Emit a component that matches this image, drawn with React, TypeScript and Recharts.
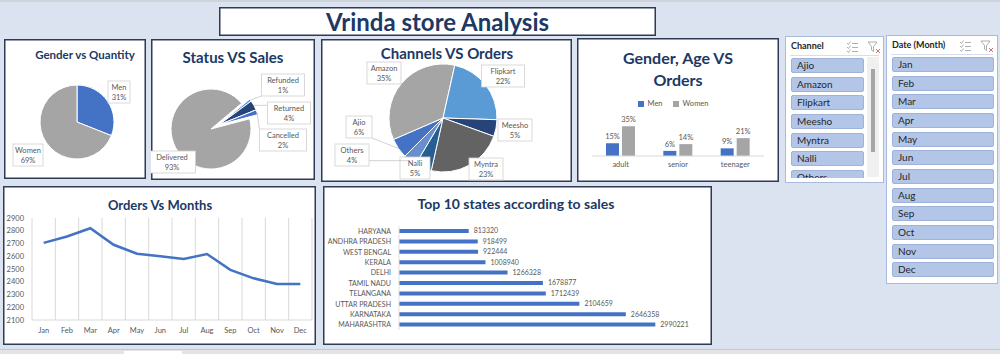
import React from 'react'
import { PieChart, Pie, Cell, BarChart, Bar, XAxis, YAxis, LabelList, LineChart, Line, CartesianGrid, Legend } from 'recharts'

// ---- data ----
const genderNames = ['Men', 'Women']
const genderQty = [31, 69]

// clockwise order from the exploded wedge
const statusNames = ['Refunded', 'Returned', 'Cancelled', 'Delivered']
const statusSales = [1, 4, 2, 93]

const channelNames = ['Ajio', 'Amazon', 'Flipkart', 'Meesho', 'Myntra', 'Nalli', 'Others']
const channelOrders = [6, 35, 22, 5, 23, 5, 4]

const ageGroups = ['adult', 'senior', 'teenager']
const menPct = [15, 6, 9]
const womenPct = [35, 14, 21]

const months = ['Jan', 'Feb', 'Mar', 'Apr', 'May', 'Jun', 'Jul', 'Aug', 'Sep', 'Oct', 'Nov', 'Dec']
const monthOrders = [2705, 2755, 2820, 2690, 2620, 2600, 2578, 2617, 2493, 2427, 2382, 2382]
const orderTicks = [2100, 2200, 2300, 2400, 2500, 2600, 2700, 2800, 2900]

const states = ['MAHARASHTRA', 'KARNATAKA', 'UTTAR PRADESH', 'TELANGANA', 'TAMIL NADU', 'DELHI', 'KERALA', 'WEST BENGAL', 'ANDHRA PRADESH', 'HARYANA']
const stateSales = [2990221, 2646358, 2104659, 1712439, 1678877, 1266328, 1008940, 922444, 918499, 813320]

const channelSlicer = ['Ajio', 'Amazon', 'Flipkart', 'Meesho', 'Myntra', 'Nalli', 'Others']

// ---- styling ----
const FONT = 'Lato, "Open Sans", sans-serif'
const NAVY = '#203864'
const BORDER = '#2e3b55'
const TXT = '#595959'
const NO_MARGIN = { top: 0, right: 0, bottom: 0, left: 0 }
const genderColors = ['#4472c4', '#a5a5a5']
const statusColors: Record<string, string> = { Refunded: '#5b9bd5', Returned: '#264478', Cancelled: '#4472c4', Delivered: '#a5a5a5' }
const channelColors = ['#4472c4', '#a5a5a5', '#5b9bd5', '#264478', '#636363', '#255e91', '#698ed0']

// label box offsets from the pie centre (excel labels were dragged by hand)
const genderLabelPos: Record<string, [number, number]> = { Men: [42, -30], Women: [-49, 33] }
const statusLabelPos: Record<string, [number, number]> = { Refunded: [72, -44], Returned: [78, -16], Cancelled: [72, 11], Delivered: [-39, 33] }
const channelLabelPos: Record<string, [number, number]> = {
    Amazon: [-59, -45], Flipkart: [60, -42], Meesho: [72, 12], Myntra: [43, 51], Nalli: [-28, 50], Others: [-91, 37], Ajio: [-84, 9],
}

const sum = (a: number[]) => a.reduce((s, v) => s + v, 0)

const boxLabel = (pos: Record<string, [number, number]>, baseX: number, baseY: number, total: number) => (p: any) => {
    const name = p.name ?? p.payload?.name
    const value = Number(p.value ?? p.payload?.value)
    const off = pos[name]
    if (!off) return null
    const bx = baseX + off[0]
    const by = baseY + off[1]
    const w = Math.round(name.length * 4.2 + 9)
    const h = 22
    const rad = Math.PI / 180
    const px = p.cx + p.outerRadius * Math.cos(-p.midAngle * rad)
    const py = p.cy + p.outerRadius * Math.sin(-p.midAngle * rad)
    const qx = Math.min(Math.max(px, bx - w / 2), bx + w / 2)
    const qy = Math.min(Math.max(py, by - h / 2), by + h / 2)
    const far = Math.hypot(px - qx, py - qy) > 4
    return (
        <g key={name}>
            {far && <line x1={px} y1={py} x2={qx} y2={qy} stroke="#bfbfbf" strokeWidth={0.7} />}
            <rect x={bx - w / 2} y={by - h / 2} width={w} height={h} fill="#fff" stroke="#d0d0d0" strokeWidth={0.8} />
            <text x={bx} y={by - 2} textAnchor="middle" fontSize={7.5} fill={TXT}>{name}</text>
            <text x={bx} y={by + 8} textAnchor="middle" fontSize={7.5} fill={TXT}>{Math.round((value / total) * 100)}%</text>
        </g>
    )
}

// state names on one line, right aligned against the axis
const StateTick = (p: any) => (
    <text x={p.x} y={p.y} dy={2.5} textAnchor="end" fontSize={7} fill={TXT}>{p.payload?.value}</text>
)

function Panel({ x, y, w, h, children }: { x: number; y: number; w: number; h: number; children?: React.ReactNode }) {
    return (
        <div style={{ position: 'absolute', left: x, top: y, width: w, height: h, background: '#fff', boxShadow: `inset 0 0 0 1.5px ${BORDER}` }}>
            {children}
        </div>
    )
}

function Title({ text, cx, cy, size }: { text: string; cx: number; cy: number; size: number }) {
    return (
        <div style={{ position: 'absolute', left: cx - 150, top: cy - size * 0.62, width: 300, textAlign: 'center', fontSize: size, fontWeight: 700, color: NAVY, lineHeight: 1.2, whiteSpace: 'nowrap' }}>
            {text}
        </div>
    )
}

function SlicerIcons({ x }: { x: number }) {
    return (
        <svg style={{ position: 'absolute', left: x, top: 4 }} width={36} height={12}>
            <g stroke="#9a9a9a" strokeWidth={0.8} fill="none">
                <path d="M1 2 l1.5 1.5 l2-3 M1 6 l1.5 1.5 l2-3 M1 10 l1.5 1.5 l2-3" />
                <path d="M6 2.5 h6 M6 6.5 h6 M6 10.5 h6" />
                <path d="M22 1 h9 l-3.5 4.5 v5 l-2 -1.5 v-3.5 z" />
                <path d="M30 8 l4 4 M34 8 l-4 4" stroke="#c0504d" />
            </g>
        </svg>
    )
}

function Slicer({ x, y, w, h, title, items, itemW, iconX, clipH, scroll }: { x: number; y: number; w: number; h: number; title: string; items: string[]; itemW: number; iconX: number; clipH: number; scroll?: boolean }) {
    return (
        <div style={{ position: 'absolute', left: x, top: y, width: w, height: h, background: '#fff', border: '1px solid #a9bbdc', boxSizing: 'border-box' }}>
            <div style={{ position: 'absolute', left: 5, top: 3, fontSize: 9, fontWeight: 700, color: '#262626' }}>{title}</div>
            <SlicerIcons x={iconX} />
            <div style={{ position: 'absolute', left: 4, top: 18, width: w - 10, height: 1, background: '#d6deef' }} />
            <div style={{ position: 'absolute', left: 4, top: 20, width: itemW + 2, height: clipH, overflow: 'hidden' }}>
                {items.map((it, i) => (
                    <div key={it} style={{ position: 'absolute', left: 1, top: 1 + i * 18.65, width: itemW, height: 15, background: '#b4c6e7', border: '1px solid #9fb3da', borderRadius: 2, boxSizing: 'border-box', fontSize: 10, color: '#262626', lineHeight: '13px', paddingLeft: 5 }}>
                        {it}
                    </div>
                ))}
            </div>
            {scroll && (
                <div style={{ position: 'absolute', left: 81, top: 20, width: 12, height: 120, background: '#f0f0f0' }}>
                    <div style={{ position: 'absolute', left: 4, top: 12, width: 4, height: 83, background: '#a6a6a6' }} />
                </div>
            )}
        </div>
    )
}

export default function App() {
    const genderData = genderNames.map((name, i) => ({ name, value: genderQty[i] }))
    const statusData = statusNames.map((name, i) => ({ name, value: statusSales[i] }))
    const channelData = channelNames.map((name, i) => ({ name, value: channelOrders[i] }))
    const ageData = ageGroups.map((name, i) => ({ name, Men: menPct[i], Women: womenPct[i] }))
    const monthData = months.map((m, i) => ({ m, orders: monthOrders[i] }))
    const stateData = states.map((s, i) => ({ s, sales: stateSales[i] }))

    // status pie: small slices exploded out of the wedge near 1-2 o'clock
    const statusTotal = sum(statusSales)
    const smallStatus = statusData.filter((d) => d.name !== 'Delivered')
    const delivered = statusData.filter((d) => d.name === 'Delivered')
    const gapStart = 40
    const gapSpan = (360 * sum(smallStatus.map((d) => d.value))) / statusTotal
    const gapMid = (gapStart - gapSpan / 2) * (Math.PI / 180)
    const sCx = 60
    const sCy = 90
    const explode = 9

    return (
        <div style={{ position: 'fixed', left: 0, top: 0, width: 1000, height: 354, background: '#dbe2f0', overflow: 'hidden', fontFamily: FONT }}>
            <div style={{ position: 'absolute', left: 0, top: 0, width: 1000, height: 2, background: '#cfd3da' }} />

            {/* headline */}
            <div style={{ position: 'absolute', left: 219, top: 7, width: 437, height: 29, background: '#fff', boxShadow: `inset 0 0 0 1.5px ${BORDER}` }}>
                <div style={{ textAlign: 'center', fontSize: 24, fontWeight: 700, color: NAVY, lineHeight: '29px' }}>Vrinda store Analysis</div>
            </div>

            {/* Gender vs Quantity */}
            <Panel x={4} y={39} w={142} h={140}>
                <Title text="Gender vs Quantity" cx={81} cy={16} size={11.5} />
                <div style={{ position: 'absolute', left: 0, top: 0 }}>
                    <PieChart width={142} height={140} margin={NO_MARGIN}>
                        <Pie data={genderData} dataKey="value" nameKey="name" cx={73} cy={83} outerRadius={37} startAngle={90} endAngle={-270}
                            stroke="#fff" strokeWidth={1} isAnimationActive={false} labelLine={false}
                            label={boxLabel(genderLabelPos, 73, 83, sum(genderQty))}>
                            {genderData.map((d, i) => <Cell key={d.name} fill={genderColors[i]} />)}
                        </Pie>
                    </PieChart>
                </div>
            </Panel>

            {/* Status VS Sales */}
            <Panel x={151} y={39} w={164} h={141}>
                <Title text="Status VS Sales" cx={82} cy={18} size={15} />
                <div style={{ position: 'absolute', left: 0, top: 0 }}>
                    <PieChart width={164} height={141} margin={NO_MARGIN}>
                        <Pie data={delivered} dataKey="value" nameKey="name" cx={sCx} cy={sCy} outerRadius={40}
                            startAngle={gapStart - gapSpan} endAngle={gapStart - 360}
                            stroke="#fff" strokeWidth={1} isAnimationActive={false} labelLine={false}
                            label={boxLabel(statusLabelPos, sCx, sCy, statusTotal)}>
                            {delivered.map((d) => <Cell key={d.name} fill={statusColors[d.name]} />)}
                        </Pie>
                        <Pie data={smallStatus} dataKey="value" nameKey="name"
                            cx={sCx + explode * Math.cos(gapMid)} cy={sCy - explode * Math.sin(gapMid)} outerRadius={40}
                            startAngle={gapStart} endAngle={gapStart - gapSpan}
                            stroke="#fff" strokeWidth={1} isAnimationActive={false} labelLine={false}
                            label={boxLabel(statusLabelPos, sCx, sCy, statusTotal)}>
                            {smallStatus.map((d) => <Cell key={d.name} fill={statusColors[d.name]} />)}
                        </Pie>
                    </PieChart>
                </div>
            </Panel>

            {/* Channels VS Orders */}
            <Panel x={321} y={39} w={251} h={143}>
                <Title text="Channels VS Orders" cx={126} cy={14} size={15} />
                <div style={{ position: 'absolute', left: 0, top: 0 }}>
                    <PieChart width={251} height={143} margin={NO_MARGIN}>
                        <Pie data={channelData} dataKey="value" nameKey="name" cx={122} cy={79} outerRadius={54} startAngle={-135} endAngle={-495}
                            stroke="#fff" strokeWidth={1} isAnimationActive={false} labelLine={false}
                            label={boxLabel(channelLabelPos, 122, 79, sum(channelOrders))}>
                            {channelData.map((d, i) => <Cell key={d.name} fill={channelColors[i]} />)}
                        </Pie>
                    </PieChart>
                </div>
            </Panel>

            {/* Gender, Age VS Orders */}
            <Panel x={577} y={38} w={202} h={144}>
                <Title text="Gender, Age VS" cx={101} cy={20} size={16} />
                <Title text="Orders" cx={101} cy={42} size={16} />
                <div style={{ position: 'absolute', left: 0, top: 0 }}>
                    <BarChart width={202} height={144} data={ageData} margin={{ top: 84, right: 15, bottom: 8, left: 15 }} barSize={13} barGap={3}>
                        <XAxis dataKey="name" height={18} tickLine={false} axisLine={{ stroke: '#d9d9d9' }} tick={{ fontSize: 7.5, fill: TXT }} tickMargin={0} />
                        <YAxis hide domain={[0, 40]} />
                        <Legend verticalAlign="middle" align="center" iconType="square" iconSize={6} wrapperStyle={{ top: 61, fontSize: 7.5 }}
                            formatter={(v: string) => <span style={{ color: TXT }}>{v}</span>} />
                        <Bar dataKey="Men" fill="#4472c4" isAnimationActive={false}>
                            <LabelList dataKey="Men" position="top" offset={4} fontSize={7.5} fill={TXT} formatter={(v: any) => `${v}%`} />
                        </Bar>
                        <Bar dataKey="Women" fill="#a5a5a5" isAnimationActive={false}>
                            <LabelList dataKey="Women" position="top" offset={4} fontSize={7.5} fill={TXT} formatter={(v: any) => `${v}%`} />
                        </Bar>
                    </BarChart>
                </div>
            </Panel>

            <Slicer x={785} y={36} w={99} h={147} title="Channel" items={channelSlicer} itemW={73} iconX={60} clipH={121} scroll />
            <Slicer x={886} y={35} w={112} h={249} title="Date (Month)" items={months} itemW={102} iconX={72} clipH={226} />

            {/* Orders Vs Months */}
            <Panel x={3} y={186} w={313} h={159}>
                <Title text="Orders Vs Months" cx={157} cy={20} size={13} />
                <div style={{ position: 'absolute', left: 0, top: 0 }}>
                    <LineChart width={313} height={159} data={monthData} margin={{ top: 32, right: 4, bottom: 5, left: 0 }}>
                        <CartesianGrid horizontal={false} stroke="#d9d9d9"
                            verticalCoordinatesGenerator={(props: any) => {
                                const o = props.offset ?? { left: 29, width: 280 }
                                return Array.from({ length: months.length + 1 }, (_, i) => o.left + (i * o.width) / months.length)
                            }} />
                        <XAxis dataKey="m" height={20} interval={0} padding={{ left: 280 / 24, right: 280 / 24 }} tickLine={false} axisLine={{ stroke: '#d9d9d9' }} tick={{ fontSize: 7.5, fill: TXT }} />
                        <YAxis width={29} domain={[2100, 2900]} ticks={orderTicks} interval={0} tickLine={false} axisLine={false} tick={{ fontSize: 7.5, fill: TXT }} />
                        <Line dataKey="orders" stroke="#4472c4" strokeWidth={2.5} dot={false} isAnimationActive={false} />
                    </LineChart>
                </div>
            </Panel>

            {/* Top 10 states */}
            <Panel x={323} y={186} w={389} h={159}>
                <Title text="Top 10 states according to sales" cx={193} cy={19} size={14} />
                <div style={{ position: 'absolute', left: 0, top: 0 }}>
                    <BarChart width={389} height={159} data={stateData} layout="vertical" margin={{ top: 40, right: 13, bottom: 15, left: 0 }} barSize={4}>
                        <XAxis type="number" hide domain={[0, 3500000]} />
                        <YAxis type="category" dataKey="s" reversed width={76} interval={0} tickLine={false} axisLine={{ stroke: '#e0e0e0' }} tick={<StateTick />} />
                        <Bar dataKey="sales" fill="#4472c4" isAnimationActive={false}>
                            <LabelList dataKey="sales" position="right" offset={5} fontSize={7} fill={TXT} />
                        </Bar>
                    </BarChart>
                </div>
            </Panel>

            {/* sheet tab strip */}
            <div style={{ position: 'absolute', left: 0, top: 349, width: 1000, height: 5, background: '#e4e4e4', borderTop: '1px solid #c8c8c8' }} />
            <div style={{ position: 'absolute', left: 124, top: 351, width: 58, height: 3, background: '#fff' }} />
        </div>
    )
}
